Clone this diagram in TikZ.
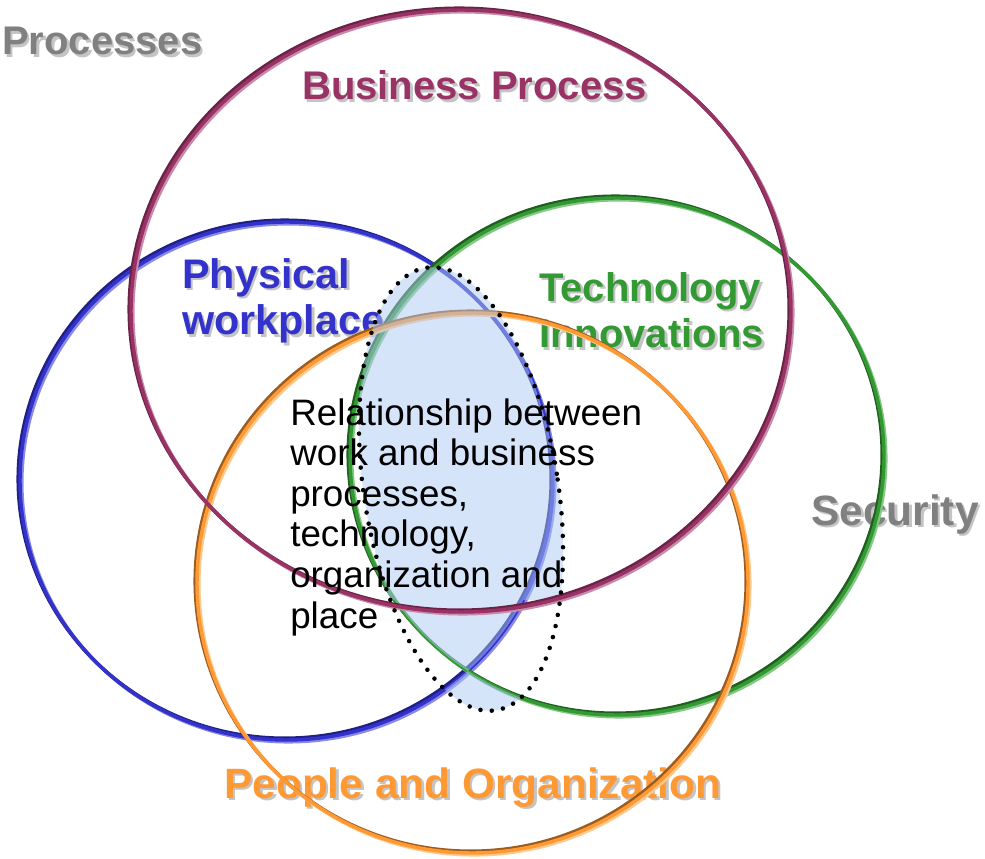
\documentclass[tikz,border=0pt]{standalone}
\usepackage{fontspec}
\setmainfont{Liberation Sans}
\usetikzlibrary{calc}

\definecolor{bizmain}{HTML}{993366}
\definecolor{bizdark}{HTML}{6A2347}
\definecolor{bizlight}{HTML}{C98BAA}
\definecolor{placemain}{HTML}{3333CC}
\definecolor{placedark}{HTML}{1F1F85}
\definecolor{placelight}{HTML}{8A8AE6}
\definecolor{techmain}{HTML}{339933}
\definecolor{techdark}{HTML}{1F5E1F}
\definecolor{techlight}{HTML}{85C885}
\definecolor{peoplemain}{HTML}{FF9933}
\definecolor{peopledark}{HTML}{9C5C1E}
\definecolor{peoplelight}{HTML}{FFC98F}
\definecolor{labelgray}{HTML}{808080}
\definecolor{shadowgray}{HTML}{C4C4C4}
\definecolor{lensblue}{HTML}{ADC9F5}

\tikzset{
  ring/.style={line width=2.6pt},
  titletext/.style={font=\fontsize{30}{35}\selectfont\bfseries, inner sep=0pt, anchor=base west, align=left},
  bigtitle/.style={font=\fontsize{31.8}{35}\selectfont\bfseries},
  bodytext/.style={font=\fontsize{27.6}{30.4}\selectfont, inner sep=0pt, anchor=base west, align=left},
  lensfill/.style={fill=lensblue, fill opacity=0.5},
  lensdots/.style={line width=3.4pt, line cap=round, dash pattern=on 0pt off 8.5pt},
}

% ring with a dark edge up-left and a light edge down-right
\newcommand{\vennring}[6]{%
  \draw[ring,draw=#6] ($(#1)+(1.8,-1.8)$) ellipse [x radius=#2, y radius=#3];
  \draw[ring,draw=#4] ($(#1)+(-1.8,1.8)$) ellipse [x radius=#2, y radius=#3];
  \draw[ring,draw=#5] (#1) ellipse [x radius=#2, y radius=#3];
}
% bold label with a grey drop shadow
\newcommand{\venntitle}[5][]{%
  \node[titletext,#1,text=shadowgray] at ($(#3)+(2.5,-2.5)$) {#5};
  \node[titletext,#1,text=#4] (#2) at (#3) {#5};
}

\begin{document}
\begin{tikzpicture}[x=0.75pt,y=0.75pt]
\useasboundingbox (0,0) rectangle (985,858);

% Centres of the sets
\coordinate (biz) at (461,547);
\coordinate (place) at (286.5,377);
\coordinate (tech) at (617,401.5);
\coordinate (people) at (472.5,275);
\coordinate (lens) at (461,369);

% Labels (base = last line)
\coordinate (proclbl) at (2,803);
\coordinate (bizlbl) at (302,758);
\coordinate (placelbl) at (182,523);
\coordinate (techlbl) at (539,510);
\coordinate (seclbl) at (811,333);
\coordinate (peoplelbl) at (224,60);
\venntitle{processes}{proclbl}{labelgray}{Processes}
\venntitle{business}{bizlbl}{bizmain}{Business Process}
\venntitle[font=\fontsize{31}{35}\selectfont\bfseries]{physical}{placelbl}{placemain}{Physical\\workplace}
\venntitle{technology}{techlbl}{techmain}{Technology\\Innovations}
\venntitle[bigtitle]{security}{seclbl}{labelgray}{Security}
\venntitle[bigtitle]{organization}{peoplelbl}{peoplemain}{People and Organization}

% Rings
\vennring{place}{266.5}{259}{placedark}{placemain}{placelight}
\vennring{tech}{267}{258.5}{techdark}{techmain}{techlight}
\vennring{people}{275.5}{270}{peopledark}{peoplemain}{peoplelight}

% Shared area
\begin{scope}
\clip[rotate around={9:(lens)}] (lens) ellipse [x radius=97, y radius=224];
\fill[lensfill] (place) ellipse [x radius=266.5, y radius=259]
  (tech) ellipse [x radius=267, y radius=258.5]
  (300,0) rectangle (650,258);
\end{scope}

\vennring{biz}{330}{301}{bizdark}{bizmain}{bizlight}

% Dotted outline
\draw[lensdots, rotate around={9:(lens)}] (lens) ellipse [x radius=97, y radius=224];

% Text in the middle
\node[bodytext] (relation) at (290,230) {Relationship between\\work and business\\processes,\\technology,\\organization and\\place};
\end{tikzpicture}
\end{document}
